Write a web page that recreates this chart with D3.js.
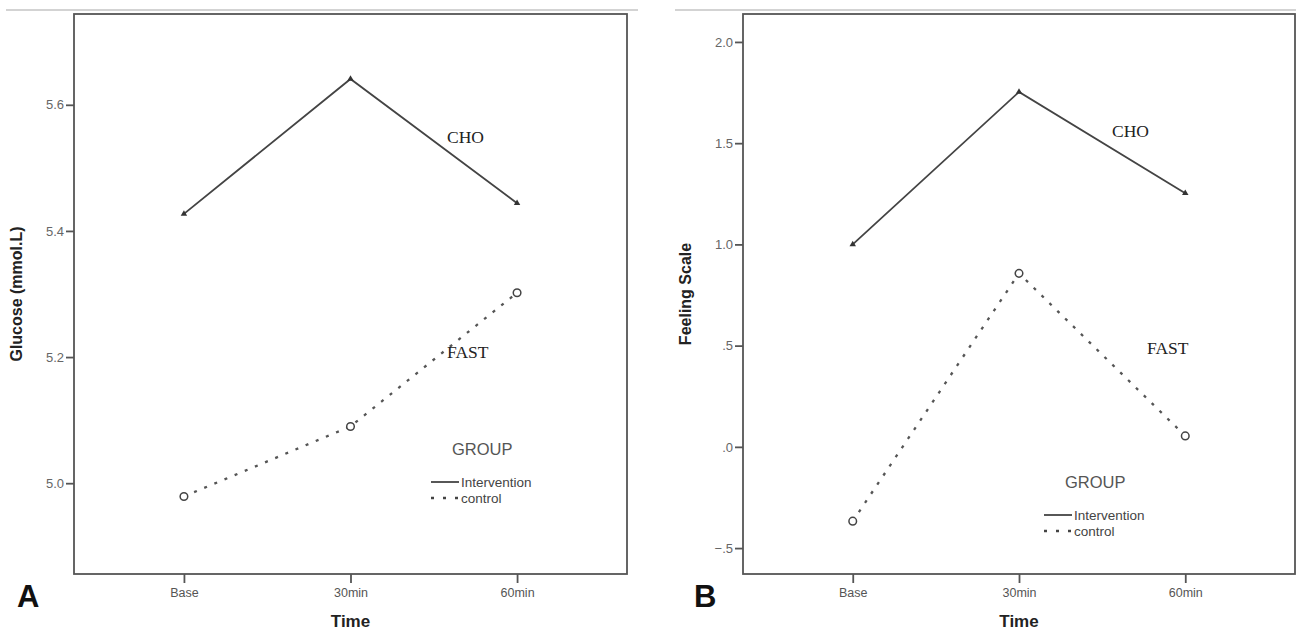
<!DOCTYPE html>
<html>
<head>
<meta charset="utf-8">
<script src="https://cdn.jsdelivr.net/npm/d3@7"></script>
<style>
  body { margin: 0; background: #fff; }
  svg { display: block; }
</style>
</head>
<body>
<svg id="chart" width="1296" height="631"></svg>
<script>
// Data
const times = ["Base", "30min", "60min"];
const groups = ["Intervention", "control"];

const glucoseCHO  = [5.427, 5.641, 5.444];
const glucoseFAST = [4.979, 5.090, 5.302];
const glucoseTicks = [5.0, 5.2, 5.4, 5.6];

const feelingCHO  = [1.00, 1.753, 1.253];
const feelingFAST = [-0.367, 0.857, 0.054];
const feelingTicks = [-0.5, 0.0, 0.5, 1.0, 1.5, 2.0];

const svg = d3.select("#chart");

// thin grey rule across the top of each panel
svg.append("line").attr("x1", 6).attr("x2", 638).attr("y1", 10).attr("y2", 10)
  .attr("stroke", "#c4c4c4").attr("stroke-width", 1.5);
svg.append("line").attr("x1", 675).attr("x2", 1296).attr("y1", 10).attr("y2", 10)
  .attr("stroke", "#c4c4c4").attr("stroke-width", 1.5);

function spssFmt(v) {
  // SPSS drops the leading zero: .5, .0, -.5
  const s = d3.format(".1f")(v);
  return Math.abs(v) < 1 ? s.replace("0.", ".") : s;
}

const sans = "Arial, 'Liberation Sans', sans-serif";

function drawPanel(p) {
  const g = svg.append("g");
  const x = d3.scalePoint().domain(times).range([p.left, p.right]).padding(0.66);
  const y = d3.scaleLinear().domain(p.yDomain).range([574, 14]);

  // frame
  g.append("rect")
    .attr("x", p.left).attr("y", 14)
    .attr("width", p.right - p.left).attr("height", 560)
    .attr("fill", "none").attr("stroke", "#555").attr("stroke-width", 1.8);

  // y axis
  const ya = g.append("g").attr("transform", `translate(${p.left},0)`)
    .call(d3.axisLeft(y).tickValues(p.ticks).tickSize(8).tickPadding(2).tickFormat(p.fmt));
  ya.select(".domain").remove();
  ya.selectAll("line").attr("stroke", "#555").attr("stroke-width", 1.8);
  ya.selectAll("text").attr("fill", "#666").attr("font-size", "13px").attr("font-family", sans);

  // x axis
  const xa = g.append("g").attr("transform", "translate(0,574)")
    .call(d3.axisBottom(x).tickSize(9).tickPadding(5));
  xa.select(".domain").remove();
  xa.selectAll("line").attr("stroke", "#555").attr("stroke-width", 1.8);
  xa.selectAll("text").attr("fill", "#555").attr("font-size", "12.5px").attr("font-family", sans);

  // axis titles
  g.append("text")
    .attr("transform", `translate(${p.left - 52},294) rotate(-90)`)
    .attr("text-anchor", "middle").attr("font-size", "16px").attr("font-weight", "bold")
    .attr("fill", "#222").attr("font-family", sans)
    .text(p.yTitle);
  g.append("text")
    .attr("x", x("30min")).attr("y", 627)
    .attr("text-anchor", "middle").attr("font-size", "17px").attr("font-weight", "bold")
    .attr("fill", "#222").attr("font-family", sans)
    .text("Time");

  // panel letter
  g.append("text")
    .attr("x", p.letterX).attr("y", 607)
    .attr("font-size", "31px").attr("font-weight", "bold").attr("fill", "#111")
    .attr("font-family", sans)
    .text(p.letter);

  const line = d3.line().x((d, i) => x(times[i])).y(d => y(d));

  // intervention (CHO) solid
  g.append("path").datum(p.cho).attr("d", line)
    .attr("fill", "none").attr("stroke", "#444").attr("stroke-width", 1.8);
  g.selectAll(".tri").data(p.cho).join("path")
    .attr("transform", (d, i) => `translate(${x(times[i])},${y(d)})`)
    .attr("d", d3.symbol(d3.symbolTriangle, 18))
    .attr("fill", "#333");

  // control (FAST) dotted
  g.append("path").datum(p.fast).attr("d", line)
    .attr("fill", "none").attr("stroke", "#555").attr("stroke-width", 2.3)
    .attr("stroke-dasharray", "3,8");
  g.selectAll(".circ").data(p.fast).join("circle")
    .attr("cx", (d, i) => x(times[i])).attr("cy", d => y(d)).attr("r", 3.8)
    .attr("fill", "#fff").attr("stroke", "#444").attr("stroke-width", 1.5);

  // series labels
  g.append("text").attr("x", p.choLabel[0]).attr("y", p.choLabel[1])
    .attr("font-family", "'Liberation Serif', 'Times New Roman', serif")
    .attr("font-size", "17.5px").attr("fill", "#222").text("CHO");
  g.append("text").attr("x", p.fastLabel[0]).attr("y", p.fastLabel[1])
    .attr("font-family", "'Liberation Serif', 'Times New Roman', serif")
    .attr("font-size", "17.5px").attr("fill", "#222").text("FAST");

  // legend
  const [lx, ly] = p.legend;
  const lg = g.append("g").attr("font-family", sans);
  lg.append("text").attr("x", lx + 21).attr("y", ly).attr("font-size", "16.5px")
    .attr("fill", "#555").text("GROUP");
  groups.forEach((name, i) => {
    const yy = ly + 27 + i * 16;
    lg.append("line").attr("x1", lx).attr("x2", lx + 28).attr("y1", yy).attr("y2", yy)
      .attr("stroke", "#444").attr("stroke-width", i ? 2.3 : 1.8)
      .attr("stroke-dasharray", i ? "3,9" : null);
    lg.append("text").attr("x", lx + 30).attr("y", yy + 5).attr("font-size", "13.5px")
      .attr("fill", "#444").text(name);
  });
}

drawPanel({
  left: 74, right: 627, yDomain: [4.856, 5.744], ticks: glucoseTicks,
  fmt: d3.format(".1f"), yTitle: "Glucose (mmol.L)", letter: "A", letterX: 17,
  cho: glucoseCHO, fast: glucoseFAST,
  choLabel: [447, 143], fastLabel: [447, 358], legend: [431, 455]
});

drawPanel({
  left: 743, right: 1295, yDomain: [-0.628, 2.138], ticks: feelingTicks,
  fmt: spssFmt, yTitle: "Feeling Scale", letter: "B", letterX: 694,
  cho: feelingCHO, fast: feelingFAST,
  choLabel: [1112, 137], fastLabel: [1147, 354], legend: [1044, 488]
});
</script>
</body>
</html>
